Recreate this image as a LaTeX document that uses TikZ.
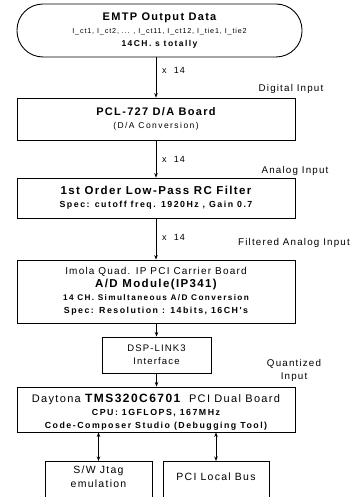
\documentclass[tikz,border=0pt]{standalone}
\usepackage{fontspec}
\setmainfont{Liberation Sans}[LetterSpace=12]
\newfontfamily\widefont{Liberation Sans}[LetterSpace=17]
\usetikzlibrary{arrows.meta,calc}
\begin{document}
\begin{tikzpicture}[x=1pt,y=-1pt,
  box/.style={draw, line width=0.9pt, rectangle, inner sep=0pt, align=center,
    font=\fontsize{8.5}{13}\selectfont},
  arr/.style={line width=0.9pt, -{Stealth[length=4.5pt,width=3.5pt]}},
  darr/.style={line width=0.9pt, {Stealth[length=4.5pt,width=3.5pt]}-{Stealth[length=4.5pt,width=3.5pt]}},
  lab/.style={font=\fontsize{9.8}{13}\selectfont, inner sep=0pt, align=center},
]
\useasboundingbox (0,0) rectangle (358,497);

\node[box, rounded corners=26pt, minimum width=285, minimum height=53] (emtp) at (159.5,30.5)
 {{\fontsize{11}{13}\selectfont\bfseries EMTP Output Data}\\
  {\fontsize{7.2}{13}\selectfont I\_ct1, I\_ct2, ... , I\_ct11, I\_ct12, I\_tie1, I\_tie2}\\
  {\widefont\fontsize{8.5}{13}\selectfont\bfseries 14CH. s totally}};

\node[box, minimum width=278, minimum height=42] (pcl) at (156,119)
 {{\fontsize{11}{12}\selectfont\bfseries PCL-727 D/A Board}\\
  {\widefont\fontsize{8.5}{12}\selectfont (D/A Conversion)}};

\node[box, minimum width=278, minimum height=40] (rc) at (156,198)
 {{\fontsize{11.5}{14}\selectfont\bfseries 1st Order Low-Pass RC Filter}\\
  {\widefont\fontsize{8.8}{14}\selectfont\bfseries Spec: cutoff freq. 1920Hz , Gain 0.7}};

\node[box, minimum width=278, minimum height=63] (imola) at (156,291.5)
 {{\fontsize{10}{13}\selectfont Imola Quad. IP PCI Carrier Board}\\
  {\fontsize{11.5}{13}\selectfont\bfseries A/D Module(IP341)}\\
  {\widefont\fontsize{8.2}{13}\selectfont\bfseries 14 CH. Simultaneous A/D Conversion}\\
  {\widefont\fontsize{8.8}{13}\selectfont\bfseries Spec: Resolution : 14bits, 16CH's}};

\node[box, minimum width=109, minimum height=36, font=\fontsize{9.5}{13}\selectfont] (dsp) at (156.5,355)
 {DSP-LINK3\\Interface};

\node[box, minimum width=278, minimum height=45] (day) at (156,409.5)
 {\rule{0pt}{14pt}{\fontsize{11}{12.5}\selectfont Daytona {\fontsize{12}{12.5}\selectfont\bfseries TMS320C6701}\ \ PCI Dual Board}\\
  {\widefont\fontsize{8.8}{12.5}\selectfont\bfseries CPU: 1GFLOPS, 167MHz}\\
  {\widefont\fontsize{8.8}{12.5}\selectfont\bfseries Code-Composer Studio (Debugging Tool)}};

\node[box, minimum width=107, minimum height=44, anchor=north] (jtag) at (98.5,461) {};
\node[box, minimum width=106, minimum height=44, anchor=north] (pci) at (216,461) {};
\node[lab, font=\fontsize{10.5}{14}\selectfont] (jtagt) at (98.5,477) {S/W Jtag\\emulation};
\node[lab, font=\fontsize{10.5}{14}\selectfont] (pcit) at (216,477) {PCI Local Bus};

\draw[arr] (emtp.south -| pcl.north) -- (pcl.north);
\draw[arr] (pcl) -- (rc);
\draw[arr] (rc) -- (imola);
\draw[arr] (imola.south -| dsp.north) -- (dsp.north);
\draw[arr] (dsp.south) -- (day.north -| dsp.south);
\draw[darr] (day.south -| jtag.north) -- (jtag.north);
\draw[darr] (day.south -| pci.north) -- (pci.north);

\node[lab, anchor=west, font=\fontsize{9}{13}\selectfont] (m1) at (162,70) {x\ \ 14};
\node[lab, anchor=west, font=\fontsize{9}{13}\selectfont] (m2) at (162,159) {x\ \ 14};
\node[lab, anchor=west, font=\fontsize{9}{13}\selectfont] (m3) at (162,237) {x\ \ 14};

\node[lab] (l1) at (291,89) {Digital Input};
\node[lab] (l2) at (295,171) {Analog Input};
\node[lab] (l3) at (294,243) {Filtered Analog Input};
\node[lab] (l4) at (294,370) {Quantized\\Input};
\end{tikzpicture}
\end{document}
